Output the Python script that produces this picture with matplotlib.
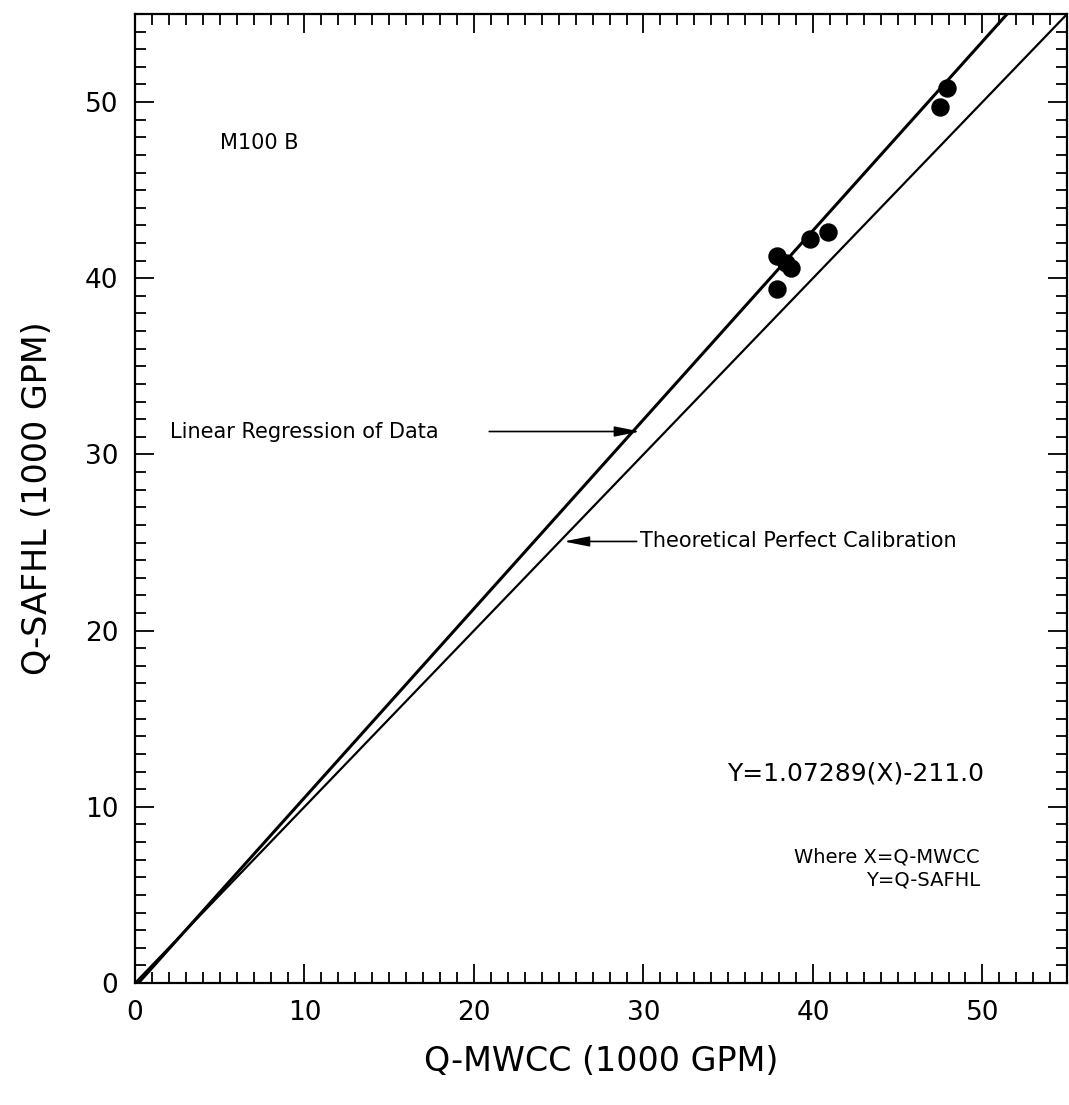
import numpy as np
import matplotlib.pyplot as plt
from matplotlib.ticker import MultipleLocator

# data (1000 GPM)
q_mwcc = [47.9, 47.5, 40.9, 39.8, 37.9, 38.4, 38.7, 37.9]
q_safhl = [50.8, 49.7, 42.6, 42.2, 41.25, 40.85, 40.6, 39.4]

slope = 1.07289
intercept = -0.211
x_line = [0.0, 55.0]

plt.rcParams['font.family'] = ['DejaVu Sans']

fig = plt.figure(figsize=(10.69, 11.05), dpi=100)
ax = fig.add_axes([0.1263, 0.1104, 0.872, 0.8770])

# theoretical perfect calibration (y = x)
ax.plot(x_line, x_line, color='black', lw=1.6)
# linear regression of data
xr = np.array(x_line)
ax.plot(xr, slope * xr + intercept, color='black', lw=2.2)
ax.scatter(q_mwcc, q_safhl, s=150, color='black', zorder=3)

ax.set_xlim(0, 55)
ax.set_ylim(0, 55)
ax.xaxis.set_major_locator(MultipleLocator(10))
ax.yaxis.set_major_locator(MultipleLocator(10))
ax.xaxis.set_minor_locator(MultipleLocator(1))
ax.yaxis.set_minor_locator(MultipleLocator(1))
ax.tick_params(which='both', direction='in', top=True, right=True,
               labelsize=19, width=1.3)
ax.tick_params(axis='x', pad=12)
ax.tick_params(axis='y', pad=12)
ax.tick_params(which='major', length=14)
ax.tick_params(which='minor', length=8)
for s in ax.spines.values():
    s.set_linewidth(1.6)

ax.set_xlabel('Q-MWCC (1000 GPM)', fontsize=24, labelpad=14)
ax.set_ylabel('Q-SAFHL (1000 GPM)', fontsize=24, labelpad=22)

ax.text(5.0, 47.7, 'M100 B', fontsize=15, ha='left', va='center')

arrow = dict(arrowstyle='-|>,head_length=1.1,head_width=0.22',
             color='black', lw=1.2, mutation_scale=14, shrinkA=0, shrinkB=0)

ax.text(2.05, 31.25, 'Linear Regression of Data', fontsize=15,
        ha='left', va='center')
ax.annotate('', xy=(29.8, 31.3), xytext=(20.9, 31.3), arrowprops=arrow)

ax.text(29.8, 25.06, 'Theoretical Perfect Calibration', fontsize=15,
        ha='left', va='center')
ax.annotate('', xy=(25.3, 25.06), xytext=(29.6, 25.06), arrowprops=arrow)

ax.text(50.1, 11.9, 'Y=1.07289(X)-211.0', fontsize=18, ha='right', va='center')
ax.text(49.85, 7.15, 'Where X=Q-MWCC', fontsize=14, ha='right', va='center')
ax.text(49.85, 5.85, 'Y=Q-SAFHL', fontsize=14, ha='right', va='center')

plt.savefig('out.png', dpi=100)
